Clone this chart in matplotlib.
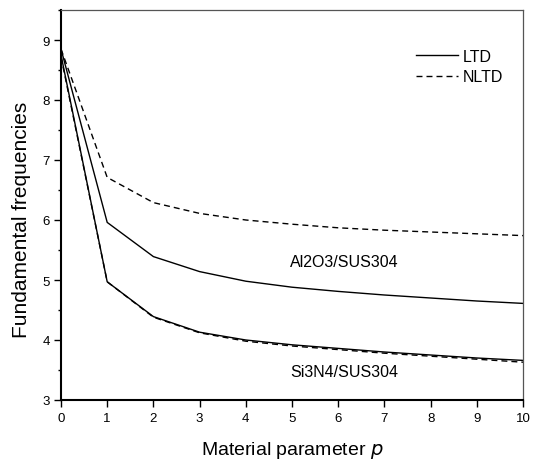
import matplotlib
matplotlib.use("Agg")
import matplotlib.pyplot as plt
from matplotlib.lines import Line2D
from matplotlib.ticker import MultipleLocator

plt.rcParams['font.family'] = ['Liberation Sans', 'DejaVu Sans']
plt.rcParams['lines.scale_dashes'] = False

p = [0, 1, 2, 3, 4, 5, 6, 7, 8, 9, 10]
al_ltd = [8.85, 5.96, 5.39, 5.14, 4.98, 4.88, 4.81, 4.75, 4.70, 4.65, 4.61]
al_nltd = [8.85, 6.71, 6.29, 6.11, 6.00, 5.93, 5.87, 5.83, 5.80, 5.77, 5.74]
si_ltd = [8.75, 4.97, 4.39, 4.13, 4.00, 3.92, 3.86, 3.80, 3.75, 3.70, 3.66]
si_nltd = [8.72, 4.97, 4.38, 4.12, 3.98, 3.90, 3.84, 3.78, 3.73, 3.68, 3.63]
xticks = [0, 1, 2, 3, 4, 5, 6, 7, 8, 9, 10]
yticks = [3, 4, 5, 6, 7, 8, 9]

fig = plt.figure(figsize=(5.34, 4.64), dpi=100)
ax = fig.add_axes([61/534, 1 - 401/464, 462/534, 390/464])

dash = (4.3, 2.9)
lw = 1.0
ax.plot(p, al_ltd, color='black', lw=lw)
ax.plot(p, al_nltd, color='black', lw=lw, dashes=dash)
ax.plot(p, si_ltd, color='black', lw=lw)
ax.plot(p, si_nltd, color='black', lw=lw, dashes=dash)

ax.set_xlim(0, 10)
ax.set_ylim(3, 9.5)
ax.set_xticks(xticks)
ax.set_yticks(yticks)
ax.yaxis.set_minor_locator(MultipleLocator(0.5))
ax.tick_params(axis='both', which='major', direction='out', length=5, width=1,
               labelsize=9.5, colors='black')
ax.tick_params(axis='x', pad=4)
ax.tick_params(axis='y', pad=3)
ax.tick_params(axis='y', which='minor', direction='out', length=2.5, width=1)

for s in ['left', 'bottom']:
    ax.spines[s].set_linewidth(1.5)
    ax.spines[s].set_color('black')
for s in ['top', 'right']:
    ax.spines[s].set_linewidth(0.9)
    ax.spines[s].set_color('#555555')

ax.set_xlabel('Material parameter $\\it{p}$', fontsize=14)
ax.xaxis.set_label_coords(0.5, (401 - 451) / 390)
ax.xaxis.label.set_verticalalignment('center')
ax.set_ylabel('Fundamental frequencies', fontsize=15)
ax.yaxis.set_label_coords((22 - 61) / 462, (401 - 220) / 390)
ax.yaxis.label.set_verticalalignment('center')

ax.text(4.96, 5.31, 'Al2O3/SUS304', fontsize=11.5, ha='left', va='center')
ax.text(4.96, 3.48, 'Si3N4/SUS304', fontsize=11.5, ha='left', va='center')

handles = [Line2D([], [], color='black', lw=lw),
           Line2D([], [], color='black', lw=lw, dashes=dash)]
ax.legend(handles, ['LTD', 'NLTD'], loc='upper left',
          bbox_to_anchor=((416 - 61) / 462, (401 - 50) / 390),
          frameon=False, fontsize=11.5, handlelength=2.6, handletextpad=0.3,
          labelspacing=0.32, borderpad=0, borderaxespad=0)

fig.savefig('out.png', dpi=100)
